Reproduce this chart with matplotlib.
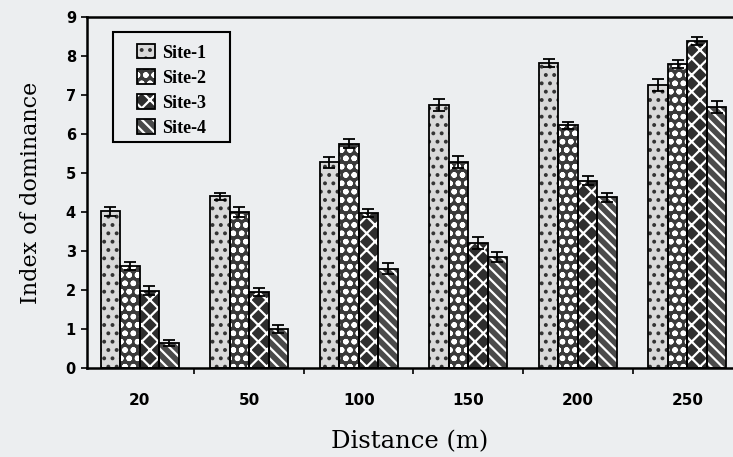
import matplotlib
matplotlib.use("Agg")
import matplotlib.pyplot as plt
import numpy as np
from matplotlib.patches import Patch, Rectangle

distances = ["20", "50", "100", "150", "200", "250"]
sites = ["Site-1", "Site-2", "Site-3", "Site-4"]
site1 = [4.02, 4.40, 5.27, 6.75, 7.82, 7.25]
site2 = [2.62, 4.00, 5.75, 5.28, 6.22, 7.80]
site3 = [1.98, 1.95, 3.98, 3.20, 4.80, 8.38]
site4 = [0.64, 1.00, 2.55, 2.85, 4.38, 6.70]
err1 = [0.12, 0.10, 0.15, 0.15, 0.10, 0.15]
err2 = [0.10, 0.12, 0.12, 0.15, 0.08, 0.10]
err3 = [0.12, 0.10, 0.10, 0.15, 0.12, 0.10]
err4 = [0.08, 0.10, 0.15, 0.12, 0.12, 0.15]

values = [site1, site2, site3, site4]
errors = [err1, err2, err3, err4]
faces = ["#d9d9d9", "#3a3a3a", "#2e2e2e", "#4a4a4a"]
hatch_cols = ["#333333", "white", "white", "white"]
hatches = ["..", "oo", "xx", "\\\\\\"]

plt.rcParams['hatch.linewidth'] = 1.6
bg = "#eceef0"
fig = plt.figure(figsize=(7.33, 4.57), dpi=100, facecolor=bg)
ax = fig.add_axes([0.1187, 0.1947, 0.8803, 0.7681], facecolor=bg)

x = np.arange(len(distances))
w = 0.178
handles = []
for i in range(4):
    pos = x + (i - 1.5) * w
    ax.bar(pos, values[i], w, color=faces[i], hatch=hatches[i],
           edgecolor=hatch_cols[i], linewidth=0, zorder=2)
    ax.bar(pos, values[i], w, fill=False, edgecolor="black", linewidth=1.3,
           yerr=errors[i], capsize=4,
           error_kw=dict(ecolor="black", elinewidth=1.3, capthick=1.3), zorder=3)
    h1 = Patch(facecolor=faces[i], hatch=hatches[i], edgecolor=hatch_cols[i], linewidth=0)
    h2 = Patch(fill=False, edgecolor="black", linewidth=1.3)
    handles.append((h1, h2))

ax.set_xlim(-0.48, 5.41)
ax.set_ylim(0, 9)
ax.set_yticks(range(10))
ax.set_yticklabels([str(v) for v in range(10)], fontweight="bold", fontsize=10.5,
                   family="DejaVu Sans")
ax.set_xticks(x)
ax.set_xticklabels(distances, fontweight="bold", fontsize=11, family="DejaVu Sans")
ax.tick_params(axis="x", which="major", length=0, pad=18)
ax.set_xticks(x[:-1] + 0.5, minor=True)
ax.tick_params(axis="x", which="minor", length=4, width=1.2, direction="out")
ax.tick_params(axis="y", length=4, width=1.2, direction="out", pad=4)

for s in ["left", "bottom", "top"]:
    ax.spines[s].set_linewidth(1.8)
ax.spines["right"].set_visible(False)

ax.set_ylabel("Index of dominance", family="DejaVu Serif", fontsize=16, labelpad=17)
ax.set_xlabel("Distance (m)", family="DejaVu Serif", fontsize=17.5, labelpad=16)

# legend frame
ax.add_patch(Rectangle((0.040, 0.644), 0.1816, 0.313, transform=ax.transAxes,
                       facecolor=bg, edgecolor="black", linewidth=1.5, zorder=4))
leg = ax.legend(handles, sites,
                loc="center", bbox_to_anchor=(0.131, 0.791), borderaxespad=0,
                frameon=False, handlelength=1.0, handleheight=0.85, handletextpad=0.35,
                labelspacing=0.42, borderpad=0.3,
                prop=dict(family="Liberation Serif", weight="bold", size=13))
leg.set_zorder(5)

fig.savefig("out.png", dpi=100, facecolor=bg)
